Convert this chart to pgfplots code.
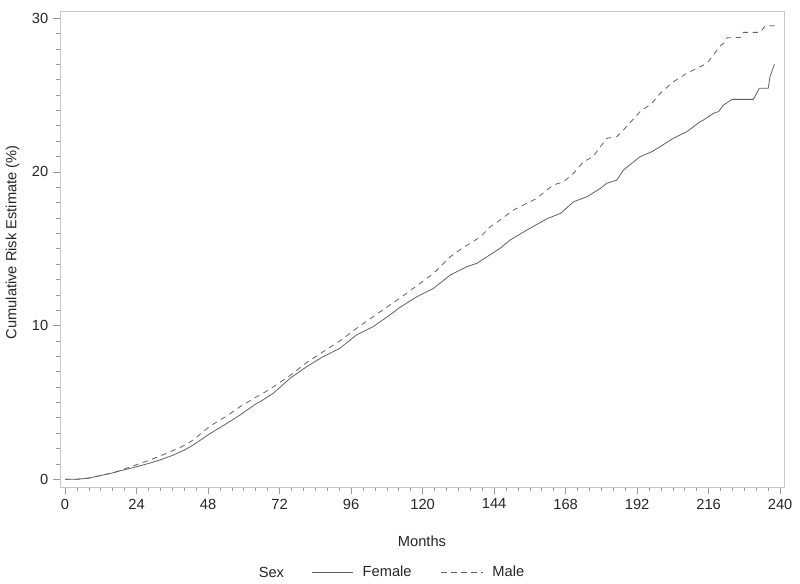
\documentclass[border=0pt]{standalone}
\usepackage{fontspec}
\setmainfont{Liberation Sans}
\usepackage{pgfplots}
\pgfplotsset{compat=1.18}
\definecolor{linegray}{HTML}{606060}
\definecolor{framegray}{HTML}{C8C8C8}
\definecolor{tickgray}{HTML}{9A9A9A}
\begin{document}
\fontsize{11}{13.2}\selectfont
\begin{tikzpicture}
\begin{axis}[
  at={(45pt,72.75pt)}, anchor=south west,
  scale only axis, width=543pt, height=357pt,
  xmin=-1.7, xmax=241.3, ymin=-0.5, ymax=30.47,
  xtick={0,24,...,240}, ytick={0,10,20,30},
  minor x tick num=5, minor y tick num=9,
  tick align=outside, tickwidth=5pt, subtickwidth=3pt,
  axis line style={framegray},
  every tick/.style={tickgray, line width=0.6pt},
  every minor tick/.style={tickgray, line width=0.5pt},
  xtick pos=bottom, ytick pos=left,
  /pgf/number format/assume math mode=true,
  tick label style={font=\fontsize{11}{13.2}\selectfont, text=black!85},
  xlabel={Months}, ylabel={Cumulative Risk Estimate (\%)},
  label style={font=\fontsize{11}{13.2}\selectfont, text=black!85},
  xlabel style={at={(axis description cs:0.5,-0.1134)}, anchor=center},
  ylabel style={at={(axis description cs:-0.0656,0.514)}, anchor=center, rotate=0},
  legend columns=2,
  legend cell align=left,
  legend style={draw=none, at={(0.4959,-0.1786)}, anchor=center,
    font=\fontsize{11}{13.2}\selectfont, text=black!85,
    /tikz/every odd column/.append style={column sep=5pt},
    /tikz/every even column/.append style={column sep=20pt}},
  legend image code/.code={\draw[#1] (0pt,0pt) -- (31pt,0pt);},
  clip=false,
]
\addplot[linegray, line width=0.6pt] coordinates {
(0,0) (4,0) (8,0.08) (12,0.25) (16,0.42) (18.5,0.56) (20,0.62) (24,0.82) (28,1.03) (31.9,1.26) (36,1.55) (40,1.9) (43,2.23) (48.7,2.98) (54.3,3.64) (58.7,4.18) (64.3,4.94) (65.5,5.05) (69.9,5.6) (75.5,6.57) (81.1,7.33) (86.6,7.98) (92.2,8.52) (97.8,9.39) (103.4,9.93) (109,10.69) (112.5,11.2) (118.1,11.88) (123.7,12.43) (129.3,13.29) (134.8,13.83) (138.2,14.05) (141.6,14.48) (146,15.03) (149.4,15.57) (155,16.22) (161.8,16.96) (166.3,17.3) (170.7,18.06) (175.2,18.39) (179.7,18.93) (181.8,19.26) (185.2,19.47) (187.4,20.12) (193,20.99) (196.9,21.31) (199.7,21.64) (204.2,22.19) (208.7,22.62) (213.2,23.27) (214.3,23.38) (217.6,23.81) (219.3,23.92) (221,24.35) (223.8,24.72) (231,24.72) (233,25.44) (236,25.44) (236.6,26.2) (238.1,27.0)
};
\addlegendentry{Female}
\addplot[linegray, line width=0.6pt, dash pattern=on 4pt off 3.5pt] coordinates {
(0,0) (4,0) (8,0.08) (12,0.25) (16,0.42) (18.5,0.56) (20,0.68) (24,0.95) (28,1.22) (31.9,1.52) (36,1.85) (40,2.2) (43,2.56) (48.7,3.47) (54.3,4.12) (58.7,4.72) (64.3,5.37) (65.5,5.48) (69.9,6.02) (75.5,6.75) (81.1,7.6) (86.6,8.3) (92.2,9.0) (97.8,9.82) (103.4,10.58) (109,11.34) (112.5,11.8) (118.1,12.6) (123.7,13.4) (129.3,14.48) (133.2,15.03) (136,15.35) (139.4,15.78) (142.7,16.43) (146,16.87) (150.5,17.52) (155,17.96) (158.3,18.28) (161.7,18.82) (163.9,19.15) (167.3,19.36) (170.6,19.9) (174,20.66) (177.2,20.99) (181.8,22.19) (185.2,22.29) (187.4,22.73) (193,23.92) (196.9,24.46) (199.7,25.11) (204.2,25.87) (208.7,26.42) (213.2,26.85) (215.4,27.07) (217.6,27.6) (219.6,28.15) (221,28.37) (222.1,28.72) (227,28.76) (227.7,29.08) (233.3,29.08) (235,29.51) (238.3,29.51)
};
\addlegendentry{Male}
\node[anchor=center, text=black!85, font=\fontsize{11}{13.2}\selectfont] at (axis description cs:0.292,-0.1786) {Sex};
\end{axis}
\pgfresetboundingbox
\useasboundingbox (0,0) rectangle (600pt,438pt);
\end{tikzpicture}
\end{document}
